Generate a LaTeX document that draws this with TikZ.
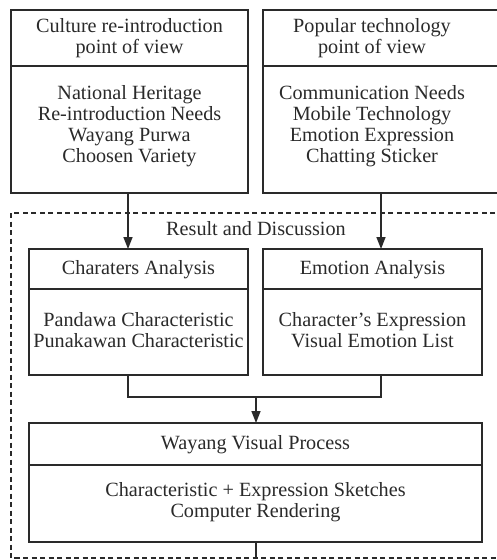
\documentclass[tikz,border=0pt]{standalone}
\usepackage{fontspec}
\setmainfont{Liberation Serif}
\usetikzlibrary{arrows.meta}
\definecolor{ink}{HTML}{2A2A2A}
\tikzset{
  boxshape/.style={draw=ink, line width=1.6pt, rectangle, inner sep=0pt, outer sep=0pt},
  txt/.style={text=ink, align=center, inner sep=0pt, font=\fontsize{20.2}{21}\selectfont},
  conn/.style={draw=ink, line width=1.6pt},
  arr/.style={conn, -{Triangle[length=12pt,width=9pt]}},
  divider/.style={draw=ink, line width=1.6pt}
}
\begin{document}
\begin{tikzpicture}[x=1pt,y=-1pt]
\useasboundingbox (0,0) rectangle (496,560);
\fill[white] (0,0) rectangle (496,560);

% dashed frame
\draw[ink, line width=1.5pt, dash pattern=on 5pt off 3.5pt] (11,213) rectangle (520,558);
\node[txt] (rd) at (256,229) {Result and Discussion};

% top-left box
\node[boxshape, minimum width=237pt, minimum height=183pt] (A) at (129.5,101.5) {};
\coordinate (Adl) at (11,66); \coordinate (Adr) at (248,66);
\draw[divider] (Adl) -- (Adr);
\node[txt] (At) at (129.5,38) {Culture re-introduction\\point of view};
\node[txt] (Ab) at (129.5,126) {National Heritage\\Re-introduction Needs\\Wayang Purwa\\Choosen Variety};

% top-right box
\node[boxshape, minimum width=250pt, minimum height=183pt, anchor=north west] (B) at (263,10) {};
\coordinate (Bdl) at (263,66); \coordinate (Bdr) at (520,66);
\draw[divider] (Bdl) -- (Bdr);
\node[txt] (Bt) at (372,38) {Popular technology\\point of view};
\node[txt] (Bb) at (372,126) {Communication Needs\\Mobile Technology\\Emotion Expression\\Chatting Sticker};

% characters analysis
\node[boxshape, minimum width=219pt, minimum height=126pt] (C) at (138.5,312) {};
\coordinate (Cdl) at (29,289); \coordinate (Cdr) at (248,289);
\draw[divider] (Cdl) -- (Cdr);
\node[txt] (Ct) at (138.5,270) {Charaters Analysis};
\node[txt] (Cb) at (138.5,330) {Pandawa Characteristic\\Punakawan Characteristic};

% emotion analysis
\node[boxshape, minimum width=219pt, minimum height=126pt] (E) at (372.5,312) {};
\coordinate (Edl) at (263,289); \coordinate (Edr) at (482,289);
\draw[divider] (Edl) -- (Edr);
\node[txt] (Et) at (372.5,270) {Emotion Analysis};
\node[txt] (Eb) at (372.5,330) {Character’s Expression\\Visual Emotion List};

% wayang visual process
\node[boxshape, minimum width=453pt, minimum height=119pt] (W) at (255.5,482.5) {};
\coordinate (Wdl) at (29,465); \coordinate (Wdr) at (482,465);
\draw[divider] (Wdl) -- (Wdr);
\node[txt] (Wt) at (255.5,445) {Wayang Visual Process};
\node[txt] (Wb) at (255.5,502) {Characteristic + Expression Sketches\\Computer Rendering};

% connectors
\coordinate (Aout) at (128,193);
\coordinate (Cin) at (128,249);
\draw[arr] (Aout) -- (Cin);
\coordinate (Bout) at (381,193);
\coordinate (Ein) at (381,249);
\draw[arr] (Bout) -- (Ein);

\coordinate (Cout) at (128,375);
\coordinate (Eout) at (381,375);
\coordinate (J1) at (128,397);
\coordinate (J2) at (381,397);
\coordinate (J) at (256,397);
\coordinate (Win) at (256,423);
\draw[conn] (Cout) -- (J1) -- (J2) -- (Eout);
\draw[arr] (J) -- (Win);

\coordinate (Wout) at (256,542);
\coordinate (Fend) at (256,558);
\draw[conn] (Wout) -- (Fend);
\end{tikzpicture}
\end{document}
